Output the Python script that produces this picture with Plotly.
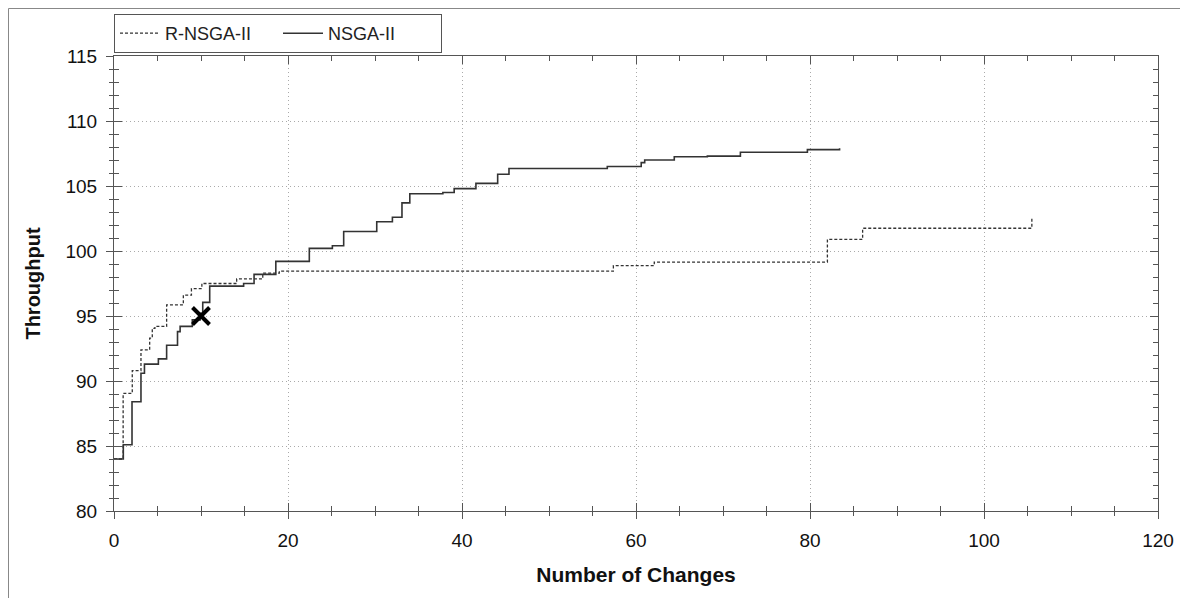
import plotly.graph_objects as go

# NSGA-II (solid) step data: x where each level starts, level value
nsga_x = [0, 1.07, 2.07, 3.1, 3.5, 5.1, 6.05, 7.3, 7.6, 9.0, 9.9, 10.2, 11.0, 14.9, 16.1, 18.6,
          22.45, 25.1, 26.4, 30.2, 32.0, 33.1, 34.0, 37.8, 39.1, 41.6, 44.1, 45.4, 56.7, 60.6,
          61.0, 64.4, 68.2, 72.0, 79.7, 83.4]
nsga_y = [84.0, 85.1, 88.4, 90.6, 91.3, 91.7, 92.75, 93.8, 94.2, 94.7, 95.2, 96.05, 97.3, 97.5,
          98.2, 99.2, 100.2, 100.4, 101.5, 102.25, 102.6, 103.7, 104.4, 104.5, 104.8, 105.2,
          105.9, 106.35, 106.5, 106.8, 107.0, 107.25, 107.3, 107.6, 107.8, 107.9]

# R-NSGA-II (dashed)
rnsga_x = [0, 1.05, 2.1, 3.1, 4.1, 4.4, 4.7, 6.05, 7.97, 8.9, 10.1, 14.1, 17.1, 19.0, 57.4,
           62.1, 82.0, 86.05, 105.5]
rnsga_y = [84.0, 89.05, 90.8, 92.4, 93.3, 94.05, 94.2, 95.85, 96.6, 97.1, 97.5, 97.85, 98.3,
           98.45, 98.87, 99.15, 100.9, 101.75, 102.5]

# Marked point
mark_x = [10]
mark_y = [95]

x_ticks = [0, 20, 40, 60, 80, 100, 120]
y_ticks = [80, 85, 90, 95, 100, 105, 110, 115]

FONT = "Liberation Sans, Arial, sans-serif"
LINE = "#333333"
AX = "#555555"
GRID = "#aaaaaa"

# plot area geometry (figure coords; page body adds an 8px offset)
ML, MR, MT, MB = 106, 38, 48, 95
PW, PH = 1188 - ML - MR, 598 - MT - MB

fig = go.Figure()
fig.add_trace(go.Scatter(x=rnsga_x, y=rnsga_y, mode="lines", line_shape="hv",
                         line=dict(color=LINE, width=1.3, dash="3px,2px"), name="R-NSGA-II"))
fig.add_trace(go.Scatter(x=nsga_x, y=nsga_y, mode="lines", line_shape="hv",
                         line=dict(color=LINE, width=1.6), name="NSGA-II"))
fig.add_trace(go.Scatter(x=mark_x, y=mark_y, mode="markers", showlegend=False,
                         marker=dict(symbol="x-thin", size=17, line=dict(color="black", width=4))))
# empty trace that carries the outer-tick overlay axes
fig.add_trace(go.Scatter(x=[], y=[], xaxis="x2", yaxis="y2", showlegend=False, hoverinfo="skip"))

common = dict(showline=True, linecolor=AX, linewidth=1, zeroline=False)
fig.update_layout(
    width=1188, height=598,
    margin=dict(l=ML, r=MR, t=MT, b=MB, autoexpand=False),
    paper_bgcolor="white", plot_bgcolor="white",
    font=dict(family=FONT, size=19, color="#111"),
    xaxis=dict(range=[0, 120], tickvals=x_ticks, ticks="inside", ticklen=8, tickcolor=AX,
               mirror="allticks", showgrid=True, gridcolor=GRID, griddash="1px,3px", gridwidth=1,
               minor=dict(dtick=5, ticks="inside", ticklen=5, tickcolor=AX, showgrid=False),
               title=dict(text="<b>Number of Changes</b>", font=dict(size=21), standoff=17),
               ticklabelstandoff=12, **common),
    yaxis=dict(range=[80, 115], tickvals=y_ticks, ticks="inside", ticklen=8, tickcolor=AX,
               mirror="allticks", showgrid=True, gridcolor=GRID, griddash="1px,3px", gridwidth=1,
               minor=dict(dtick=1, ticks="inside", ticklen=5, tickcolor=AX, showgrid=False),
               title=dict(text="<b>Throughput</b>", font=dict(size=20), standoff=19),
               ticklabelstandoff=12, **common),
    xaxis2=dict(range=[0, 120], overlaying="x", anchor="y2", side="bottom", tickvals=x_ticks,
                ticks="outside", ticklen=7, tickcolor=AX, showticklabels=False, showgrid=False,
                minor=dict(dtick=5, ticks="outside", ticklen=4, tickcolor=AX), showline=False,
                zeroline=False),
    yaxis2=dict(range=[80, 115], overlaying="y", anchor="x2", side="left", tickvals=y_ticks,
                ticks="outside", ticklen=7, tickcolor=AX, showticklabels=False, showgrid=False,
                minor=dict(dtick=1, ticks="outside", ticklen=4, tickcolor=AX), showline=False,
                zeroline=False),
    legend=dict(orientation="h", x=0, xanchor="left", y=1 + 3 / PH, yanchor="bottom",
                bordercolor="#555", borderwidth=1, bgcolor="white",
                font=dict(size=18, color="#222"), itemwidth=40,
                entrywidth=108, entrywidthmode="pixels"),
    showlegend=True,
)

# outer frame lines (top and left) of the figure
fx = lambda px: (px - ML) / PW
fy = lambda py: (MT + PH - py) / PH
fig.add_shape(type="line", xref="paper", yref="paper", x0=fx(0.5), x1=fx(1188),
              y0=fy(0.5), y1=fy(0.5), line=dict(color="#888", width=1))
fig.add_shape(type="line", xref="paper", yref="paper", x0=fx(0.5), x1=fx(0.5),
              y0=fy(0.5), y1=fy(598), line=dict(color="#888", width=1))

fig.write_html("out.html")
